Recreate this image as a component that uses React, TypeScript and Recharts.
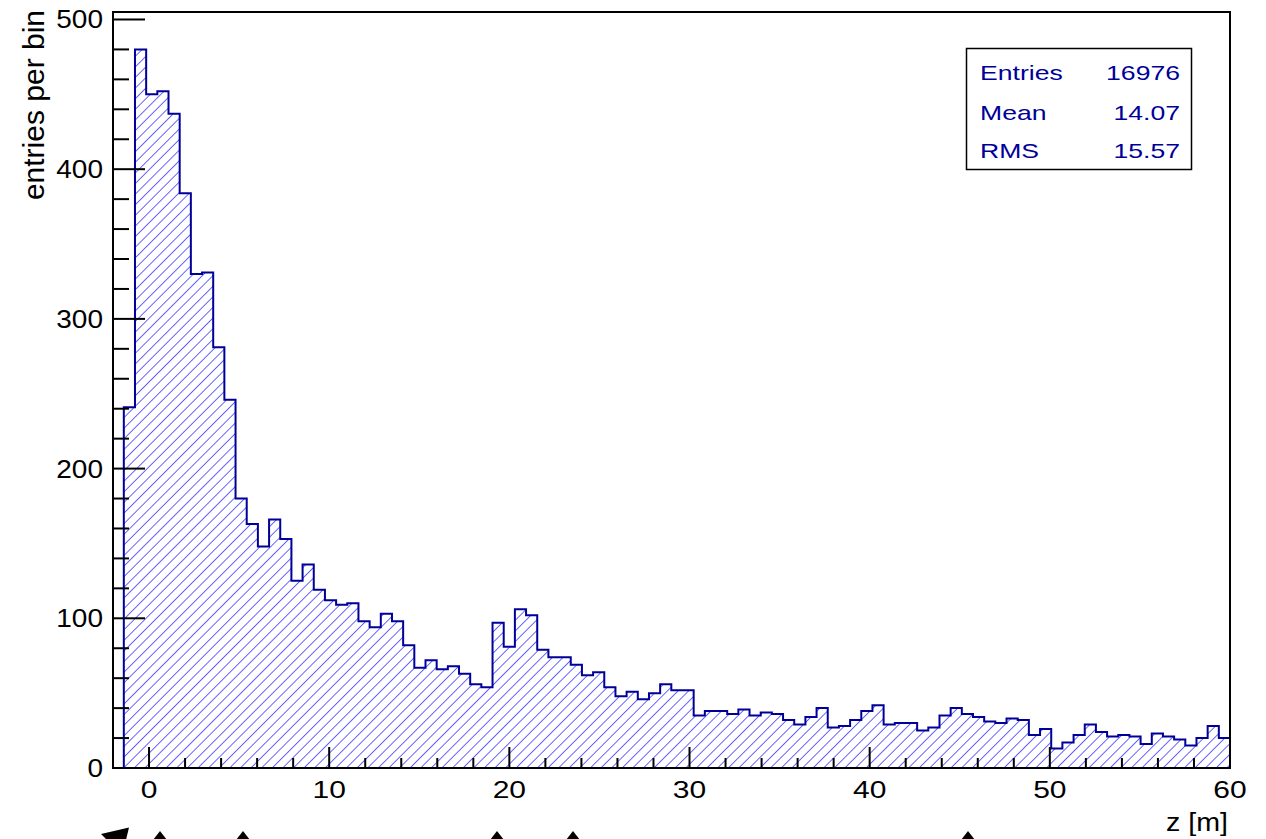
import { AreaChart, Area, XAxis, YAxis, ReferenceArea } from 'recharts';

// z distribution, 99 equal bins between binLow and binHigh (metres)
const binLow = -1.4;
const binHigh = 60;
const counts = [
  241, 480, 450, 452, 437, 384, 330, 331, 281, 246, 180, 163, 148, 166, 153, 125, 136, 119, 112, 109,
  110, 98, 94, 103, 98, 82, 67, 72, 66, 68, 63, 56, 54, 97, 81, 106, 102, 79, 74, 74,
  69, 62, 64, 54, 48, 51, 46, 50, 56, 52, 52, 35, 38, 38, 36, 39, 35, 37, 36, 32,
  29, 34, 40, 27, 28, 32, 38, 42, 29, 30, 30, 25, 27, 35, 40, 36, 34, 31, 30, 33,
  32, 22, 26, 13, 17, 22, 29, 24, 21, 22, 21, 16, 23, 21, 19, 15, 20, 28, 20,
];

const xTicks = [0, 2, 4, 6, 8, 10, 12, 14, 16, 18, 20, 22, 24, 26, 28, 30, 32, 34, 36, 38, 40, 42, 44, 46, 48, 50, 52, 54, 56, 58, 60];
const yTicks = [0, 20, 40, 60, 80, 100, 120, 140, 160, 180, 200, 220, 240, 260, 280, 300, 320, 340, 360, 380, 400, 420, 440, 460, 480, 500];

const statNames = ['Entries', 'Mean', 'RMS'];
const statValues = ['16976', '14.07', '15.57'];

const W = 1266;
const H = 839;
const PLOT_LEFT = 113;
const PLOT_BOTTOM = 768;
const FONT = '"Liberation Sans", Arial, Helvetica, sans-serif';
const LINE_BLUE = '#000099';
const HATCH_BLUE = '#0000ff';

const binWidth = (binHigh - binLow) / counts.length;

// step outline: start and end on the baseline so the side walls get drawn
const rows = [
  { z: binLow, n: 0 },
  ...counts.map((n, i) => ({ z: binLow + i * binWidth, n })),
  { z: binHigh, n: counts[counts.length - 1] },
  { z: binHigh, n: 0 },
];

function XTick(props: any) {
  const { x, payload } = props;
  const major = payload.value % 10 === 0;
  return (
    <g>
      <line x1={x} x2={x} y1={PLOT_BOTTOM} y2={PLOT_BOTTOM - (major ? 21 : 10)} stroke="#000" strokeWidth={2} />
      {major && (
        <text
          transform={`translate(${x},798) scale(1.25,1)`}
          textAnchor="middle"
          fontFamily={FONT}
          fontSize={24}
          fill="#000"
        >
          {payload.value}
        </text>
      )}
    </g>
  );
}

function YTick(props: any) {
  const { y, payload } = props;
  const major = payload.value % 100 === 0;
  return (
    <g>
      <line x1={PLOT_LEFT} x2={PLOT_LEFT + (major ? 32 : 16)} y1={y} y2={y} stroke="#000" strokeWidth={2} />
      {major && (
        <text
          transform={`translate(103,${y}) scale(1.12,1)`}
          dy="0.36em"
          textAnchor="end"
          fontFamily={FONT}
          fontSize={25}
          fill="#000"
        >
          {payload.value}
        </text>
      )}
    </g>
  );
}

function Annotations() {
  const rowY = [80, 119.5, 158];
  return (
    <svg width={W} height={H} style={{ position: 'absolute', left: 0, top: 0, pointerEvents: 'none' }}>
      <text
        transform="translate(43.5,10) rotate(-90)"
        textAnchor="end"
        fontFamily={FONT}
        fontSize={30}
        fill="#000"
      >
        entries per bin
      </text>
      <text
        transform="translate(1228,831) scale(1.1,1)"
        textAnchor="end"
        fontFamily={FONT}
        fontSize={26}
        fill="#000"
      >
        z [m]
      </text>

      {/* stats box */}
      <rect x={966.5} y={48.5} width={225} height={121} fill="#fff" stroke="#000" strokeWidth={1.5} />
      {statNames.map((name, i) => (
        <g key={name}>
          <text
            transform={`translate(980,${rowY[i]}) scale(1.33,1)`}
            fontFamily={FONT}
            fontSize={20}
            fill={LINE_BLUE}
          >
            {name}
          </text>
          <text
            transform={`translate(1180,${rowY[i]}) scale(1.33,1)`}
            textAnchor="end"
            fontFamily={FONT}
            fontSize={20}
            fill={LINE_BLUE}
          >
            {statValues[i]}
          </text>
        </g>
      ))}

      {/* clipped markers along the lower edge */}
      <polygon points="101,834 129,827.5 126,840 107,840" fill="#000" />
      {[160, 243, 497, 573, 968].map((cx) => (
        <polygon key={cx} points={`${cx - 7},840 ${cx},831 ${cx + 7},840`} fill="#000" />
      ))}
    </svg>
  );
}

export default function App() {
  return (
    <div style={{ position: 'fixed', left: 0, top: 0, width: W, height: H, background: '#fff' }}>
      <AreaChart width={W} height={H} data={rows} margin={{ top: 12, right: 36, bottom: 0, left: 0 }}>
        <defs>
          <pattern id="hatch" width="7.5" height="7.5" patternUnits="userSpaceOnUse" patternTransform="rotate(45)">
            <line x1="0" y1="0" x2="0" y2="7.5" stroke={HATCH_BLUE} strokeWidth={1.2} />
          </pattern>
        </defs>
        <XAxis
          dataKey="z"
          type="number"
          domain={[-2, 60]}
          ticks={xTicks}
          interval={0}
          allowDataOverflow
          axisLine={false}
          tickLine={false}
          height={71}
          tick={XTick}
        />
        <YAxis
          type="number"
          domain={[0, 505]}
          ticks={yTicks}
          interval={0}
          allowDataOverflow
          axisLine={false}
          tickLine={false}
          width={113}
          tick={YTick}
        />
        <Area
          type="stepAfter"
          dataKey="n"
          baseValue={0}
          stroke={LINE_BLUE}
          strokeWidth={2}
          fill="url(#hatch)"
          fillOpacity={1}
          dot={false}
          activeDot={false}
          isAnimationActive={false}
        />
        <ReferenceArea x1={-2} x2={60} y1={0} y2={505} fill="none" stroke="#000" strokeWidth={2} ifOverflow="visible" />
      </AreaChart>
      <Annotations />
    </div>
  );
}
